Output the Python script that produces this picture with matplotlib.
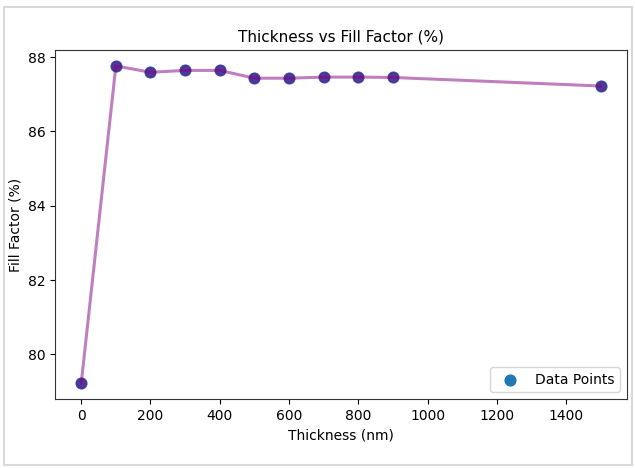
import matplotlib.pyplot as plt
from matplotlib.patches import Rectangle

# Thickness (nm) vs fill factor (%)
thickness = [0, 100, 200, 300, 400, 500, 600, 700, 800, 900, 1500]
fill_factor = [79.22, 87.76, 87.59, 87.64, 87.64, 87.43, 87.43, 87.46, 87.46, 87.45, 87.22]

plt.rcParams['font.family'] = ['DejaVu Sans']

fig = plt.figure(figsize=(6.35, 4.68), dpi=100)
ax = fig.add_axes([0.087, 0.147, 0.9, 0.746])

ax.scatter(thickness, fill_factor, color='#1f77b4', s=60, label='Data Points', zorder=2)
ax.plot(thickness, fill_factor, color='purple', alpha=0.5, lw=2.2, marker='o', markersize=7, zorder=3)

ax.set_title('Thickness vs Fill Factor (%)', fontsize=11)
ax.set_xlabel('Thickness (nm)', fontsize=10)
ax.set_ylabel('Fill Factor (%)', fontsize=10)
ax.set_xticks(range(0, 1401, 200))
ax.set_yticks([80, 82, 84, 86, 88])
ax.legend(loc='lower right')

for s in ax.spines.values():
    s.set_color('#333333')

# light frame around the whole figure
fig.patches.append(Rectangle((0.007, 0.006), 0.988, 0.98, transform=fig.transFigure,
                             fill=False, edgecolor='#d8d8d8', lw=1.5))

plt.savefig('out.png', dpi=100)
